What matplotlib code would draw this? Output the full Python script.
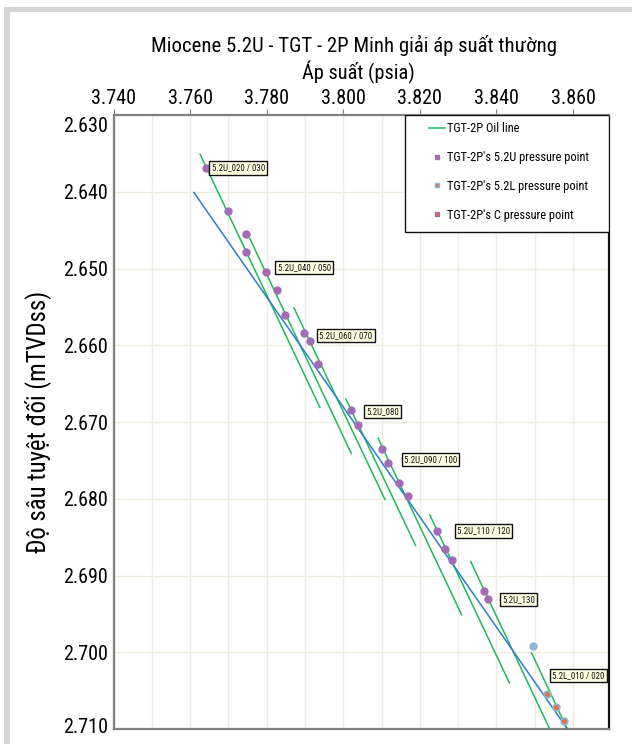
import matplotlib
matplotlib.use("Agg")
import matplotlib.pyplot as plt
from matplotlib import font_manager as fm
from matplotlib.patches import Rectangle
from matplotlib.lines import Line2D
import matplotlib.ticker as mticker
import matplotlib.transforms as mtrans

# ---------------- data ----------------
u52_pressure = [3764.2, 3769.8, 3774.6, 3774.5, 3779.8, 3782.7, 3784.9, 3789.7, 3791.2, 3793.4,
                3802.0, 3803.9, 3810.0, 3811.7, 3814.5, 3816.8, 3824.6, 3826.6, 3828.3, 3836.8, 3837.9]
u52_depth = [2636.95, 2642.5, 2645.5, 2647.9, 2650.5, 2652.8, 2656.0, 2658.4, 2659.4, 2662.4,
             2668.4, 2670.4, 2673.5, 2675.4, 2677.9, 2679.6, 2684.2, 2686.5, 2688.0, 2692.0, 2693.0]
l52_pressure = [3849.6, 3853.3, 3855.6, 3857.7]
l52_depth = [2699.2, 2705.4, 2707.1, 2708.9]
c_pressure = [3853.3, 3855.6, 3857.7]
c_depth = [2705.4, 2707.1, 2708.9]

oil_p_start = [3762.6, 3775.6, 3787.1, 3800.7, 3809.1, 3822.6, 3833.3, 3849.2]
oil_d_start = [2635.1, 2646.1, 2655.1, 2667.0, 2672.1, 2682.1, 2688.2, 2700.1]
oil_p_end = [3793.9, 3802.1, 3810.9, 3818.9, 3830.9, 3843.4, 3854.0, 3858.4]
oil_d_end = [2668.1, 2674.1, 2680.1, 2686.1, 2695.1, 2704.0, 2710.1, 2709.9]

trend_pressure = [3761.0, 3858.4]
trend_depth = [2640.1, 2709.9]

zone_labels = ["5.2U_020 / 030", "5.2U_040 / 050", "5.2U_060 / 070", "5.2U_080",
               "5.2U_090 / 100", "5.2U_110 / 120", "5.2U_130", "5.2L_010 / 020"]
label_pressure = [3765.1, 3782.3, 3793.2, 3805.4, 3815.3, 3829.2, 3840.9, 3854.0]
label_depth = [2636.9, 2649.9, 2658.7, 2668.6, 2674.9, 2684.2, 2693.1, 2703.0]

x_ticks = [3740, 3760, 3780, 3800, 3820, 3840, 3860]
y_ticks = [2630, 2640, 2650, 2660, 2670, 2680, 2690, 2700, 2710]

title_text = "Miocene 5.2U - TGT - 2P Minh giải áp suất thường"
xlabel_text = "Áp suất (psia)"
ylabel_text = "Độ sâu tuyệt đối (mTVDss)"
legend_labels = ["TGT-2P Oil line", "TGT-2P's 5.2U pressure point",
                 "TGT-2P's 5.2L pressure point", "TGT-2P's C pressure point"]

# ---------------- fonts ----------------
names = {f.name for f in fm.fontManager.ttflist}
for cand in ["Roboto Condensed", "Liberation Sans Narrow", "Open Sans Condensed", "Roboto"]:
    if cand in names:
        FAM = cand
        break
else:
    FAM = "DejaVu Sans"
plt.rcParams["font.family"] = [FAM, "DejaVu Sans"]

GREEN = "#1fb85a"
BLUE = "#2f7bd0"
PURPLE = "#a26db3"
LBLUE = "#8db6da"
ORANGE = "#e2713a"
GRID = "#eeebe0"
SPINE = "#808080"

fig = plt.figure(figsize=(6.32, 7.44), dpi=100)
W, H = 632, 744
renderer = fig.canvas.get_renderer()


def fit(text, target_px, base=12.0):
    t = fig.text(0, 0, text, fontsize=base)
    w = t.get_window_extent(renderer).width
    t.remove()
    return base * target_px / w


fs_title = fit(title_text, 405)
fs_xlabel = fit(xlabel_text, 112)
fs_ylabel = fit(ylabel_text, 262)
fs_tick = fit("3.760", 45)
fs_leg = fit(legend_labels[1], 142)
fs_zone = fit(zone_labels[0], 53)

# gray outer frame
fig.patches.append(Rectangle((4 / W, 0), 6 / W, (H - 7) / H, transform=fig.transFigure,
                             facecolor="#d6d6d6", edgecolor="none"))
fig.patches.append(Rectangle((4 / W, 1 - 12 / H), 1, 5 / H, transform=fig.transFigure,
                             facecolor="#d6d6d6", edgecolor="none"))

ax_l, ax_r, ax_t, ax_b = 113.5, 609, 115, 729
ax = fig.add_axes([ax_l / W, 1 - ax_b / H, (ax_r - ax_l) / W, (ax_b - ax_t) / H])

ax.set_xlim(3740, 3869.4)
ax.set_ylim(2710, 2630)

# grid
ax.xaxis.set_minor_locator(mticker.MultipleLocator(10))
ax.yaxis.set_minor_locator(mticker.MultipleLocator(10))
ax.grid(which="both", color=GRID, linewidth=1.0, zorder=0)
ax.set_axisbelow(True)

ax.xaxis.tick_top()
ax.set_xticks(x_ticks)
ax.set_yticks(y_ticks)
fmt = mticker.FuncFormatter(lambda v, p: f"{int(round(v)):,}".replace(",", "."))
ax.xaxis.set_major_formatter(fmt)
ax.yaxis.set_major_formatter(fmt)
ax.tick_params(axis="x", which="major", direction="out", length=4, color=SPINE,
               labelsize=fs_tick, pad=1, top=True, bottom=False)
ax.tick_params(axis="x", which="minor", length=0, top=False, bottom=False)
ax.tick_params(axis="y", which="both", length=0, labelsize=fs_tick, pad=4)

for s in ["left", "top", "bottom"]:
    ax.spines[s].set_color(SPINE)
    ax.spines[s].set_linewidth(1.6)
ax.spines["right"].set_color("#111111")
ax.spines["right"].set_linewidth(1.6)

# first / last y tick labels kept inside
fig.canvas.draw()
ylabels = ax.yaxis.get_majorticklabels()
ylabels[0].set_va("top")
ylabels[0].set_transform(ylabels[0].get_transform() + mtrans.ScaledTranslation(0, -2 / 100, fig.dpi_scale_trans))
ylabels[-1].set_transform(ylabels[-1].get_transform() + mtrans.ScaledTranslation(0, 4 / 100, fig.dpi_scale_trans))

# lines
for p0, d0, p1, d1 in zip(oil_p_start, oil_d_start, oil_p_end, oil_d_end):
    ax.plot([p0, p1], [d0, d1], color=GREEN, lw=1.1, zorder=3, clip_on=True)
ax.plot(trend_pressure, trend_depth, color=BLUE, lw=1.1, zorder=3)

# points
ax.plot(u52_pressure, u52_depth, "o", ms=5, color=PURPLE, mec=PURPLE, zorder=4)
ax.plot(l52_pressure, l52_depth, "o", ms=5, color=LBLUE, mec=LBLUE, zorder=4)
ax.plot(c_pressure, c_depth, "o", ms=2.5, color=ORANGE, mec=ORANGE, zorder=5)

# zone labels
for txt, p, d in zip(zone_labels, label_pressure, label_depth):
    ax.annotate(txt, (p, d), xytext=(1.5, 0), textcoords="offset points", ha="left", va="center",
                fontsize=fs_zone, zorder=6, color="#111111",
                bbox=dict(boxstyle="square,pad=0.25", facecolor="#ffffe3", edgecolor="#111111", lw=1.0))

# legend frame (manual) + legend
lg_left = (405 - ax_l) / (ax_r - ax_l)
lg_h = (232 - ax_t) / (ax_b - ax_t)
ax.add_patch(Rectangle((lg_left, 1 - lg_h), 1 - lg_left, lg_h, transform=ax.transAxes,
                       facecolor="white", edgecolor="#111111", lw=1.0, zorder=7))
handles = [
    Line2D([], [], color=GREEN, lw=1.1),
    Line2D([], [], ls="none", marker="s", ms=3.5, color=PURPLE, mec=PURPLE),
    Line2D([], [], ls="none", marker="s", ms=3.5, color=ORANGE, mec=LBLUE, mew=1.0),
    Line2D([], [], ls="none", marker="s", ms=3.5, color=ORANGE, mec=PURPLE, mew=1.0),
]
leg = ax.legend(handles, legend_labels, loc="upper left",
                bbox_to_anchor=((425 - ax_l) / (ax_r - ax_l), 1 - 3 / (ax_b - ax_t)),
                frameon=False, fontsize=fs_leg, handlelength=1.3, handletextpad=0.15,
                labelspacing=1.27, borderpad=0.35, borderaxespad=0)
leg.set_zorder(8)

# titles
fig.text(354 / W, 1 - 45 / H, title_text, ha="center", va="center", fontsize=fs_title)
fig.text(358 / W, 1 - 72 / H, xlabel_text, ha="center", va="center", fontsize=fs_xlabel)
ax.set_ylabel(ylabel_text, fontsize=fs_ylabel)
ax.yaxis.set_label_coords((51 - ax_l) / (ax_r - ax_l), 0.5)

fig.savefig("out.png", dpi=100, facecolor="white")
